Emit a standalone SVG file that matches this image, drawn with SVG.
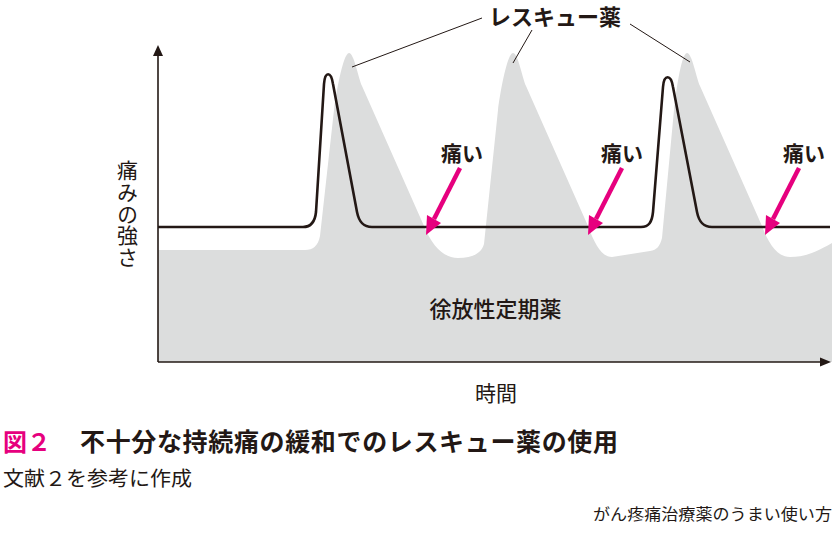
<svg xmlns="http://www.w3.org/2000/svg" xmlns:xlink="http://www.w3.org/1999/xlink" width="832" height="535" viewBox="0 0 832 535">
  <style>
    text { font-family: "Noto Sans CJK JP", "Noto Sans", sans-serif; fill: #231815; }
    .b { font-weight: bold; }
    .m { font-weight: 500; }
    .ink { stroke: #231815; fill: none; }
    .pink { fill: #e6007e; }
  </style>
  <defs>
    <g id="pinkArrow">
      <line x1="460" y1="168" x2="434" y2="219" stroke="#e6007e" stroke-width="4.5"/>
      <polygon class="pink" points="426,235 441,223 427,215"/>
    </g>
  </defs>

  <g id="rescue-area">
    <path fill="#dcdddd" d="M158,362 V250 H305 C313,250 318,246 320,236 L334,110 C335.5,96.5 343,53 349,53 C354,53 358,77 362,86 L424,226 C432,246 444,258 458,258 C472,258 481,254 484,244 L498,110 C499.5,96.5 507,53 513,53 C518,53 522,77 526,86 L588,226 C595,245 602,257 612,257 L650,251 C657,250 660,246 662,238 L674,110 C675.5,96.5 681,53 687,53 C692,53 696,77 700,86 L762,226 C769,245 778,257 790,257 C806,257 816,252 832,243 V362 Z"/>
  </g>

  <g id="axes">
    <line class="ink" x1="158" y1="362" x2="158" y2="55" stroke-width="1.6"/>
    <polygon fill="#231815" points="158,45 153,56 163,56"/>
    <line class="ink" x1="158" y1="362" x2="821" y2="362" stroke-width="1.6"/>
    <polygon fill="#231815" points="831,362 820,357.5 820,366.5"/>
  </g>

  <g id="pain-line">
    <path class="ink" stroke-width="2.6" stroke-linejoin="round" d="M158,227 H303 C311,227 315,222 316,212 L324,84 C325,71 331,71 333,84 L357,212 C359,222 363,227 372,227 H641 C649,227 652,222 653,212 L663,87 C664,74 671,74 673,87 L697,212 C699,222 703,227 712,227 H830"/>
  </g>

  <g id="connectors">
    <line class="ink" stroke-width="1" x1="482" y1="18" x2="352" y2="67"/>
    <line class="ink" stroke-width="1" x1="532" y1="30" x2="513" y2="63"/>
    <line class="ink" stroke-width="1" x1="630" y1="24" x2="690" y2="62"/>
    <use xlink:href="#pinkArrow"/>
    <use xlink:href="#pinkArrow" transform="translate(162,0)"/>
    <use xlink:href="#pinkArrow" transform="translate(339,0)"/>
  </g>

  <g id="label-rescue">
    <text class="b" x="555" y="25" font-size="22" text-anchor="middle">レスキュー薬</text>
  </g>
  <g id="label-pain1">
    <text class="b" x="462" y="161" font-size="21" text-anchor="middle">痛い</text>
  </g>
  <g id="label-pain2">
    <text class="b" x="622" y="161" font-size="21" text-anchor="middle">痛い</text>
  </g>
  <g id="label-pain3">
    <text class="b" x="804" y="161" font-size="21" text-anchor="middle">痛い</text>
  </g>
  <g id="label-base">
    <text class="m" x="495.5" y="317" font-size="22" text-anchor="middle">徐放性定期薬</text>
  </g>
  <g id="label-yaxis">
    <text x="127.5" y="160" font-size="21" writing-mode="vertical-rl" letter-spacing="0.6">痛みの強さ</text>
  </g>
  <g id="label-xaxis">
    <text x="496" y="401" font-size="21" text-anchor="middle">時間</text>
  </g>

  <g id="caption">
    <text class="b" x="3" y="451" font-size="24" style="fill:#e6007e">図２</text>
    <text class="b" x="80" y="451" font-size="25" textLength="538" lengthAdjust="spacing">不十分な持続痛の緩和でのレスキュー薬の使用</text>
    <text x="3" y="486" font-size="20" textLength="189" lengthAdjust="spacingAndGlyphs">文献２を参考に作成</text>
    <text x="593" y="520" font-size="15.5" textLength="239" lengthAdjust="spacingAndGlyphs">がん疼痛治療薬のうまい使い方</text>
  </g>
</svg>
